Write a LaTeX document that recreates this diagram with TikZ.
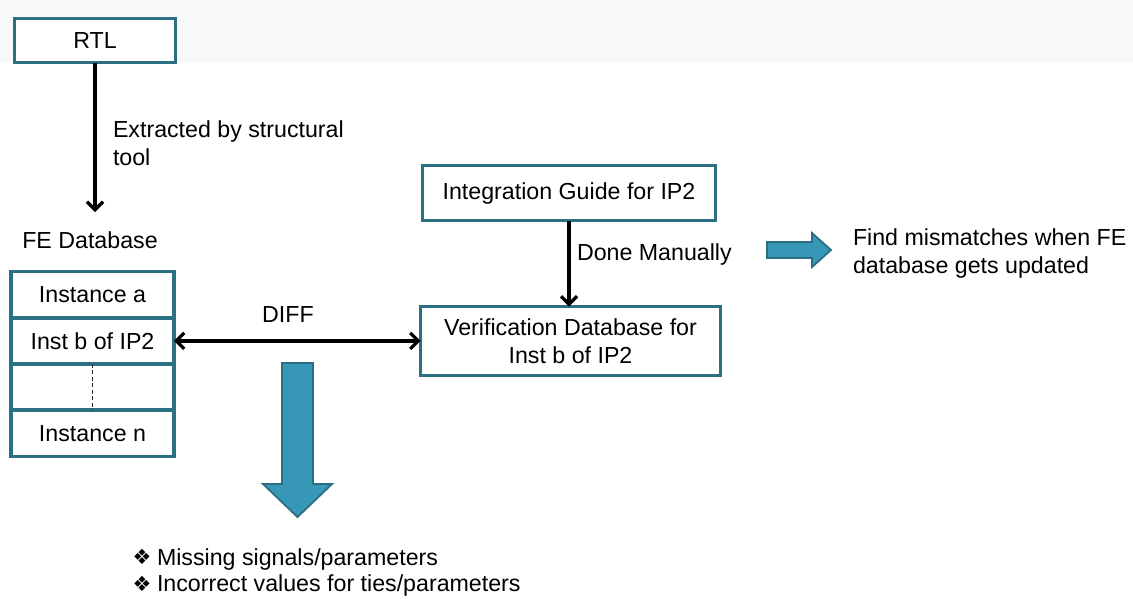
\documentclass[tikz,border=0pt]{standalone}
\usepackage{fontspec}
\setmainfont{Liberation Sans}
\newfontfamily\symfont{DejaVu Sans}
\usetikzlibrary{arrows.meta}
\definecolor{boxteal}{RGB}{44,112,132}
\definecolor{arrfill}{RGB}{55,151,182}
\definecolor{arredge}{RGB}{42,110,132}
\definecolor{bandgray}{RGB}{248,248,248}
\newcommand\dfont{\fontsize{23.2}{28}\selectfont}
\tikzset{
  box/.style={draw=boxteal, line width=3.5pt, fill=white, inner sep=0pt, outer sep=0pt, align=center, font=\dfont},
  lbl/.style={inner sep=0pt, outer sep=0pt, align=left, font=\dfont},
  conn/.style={draw=black, line width=3.2pt, -{Straight Barb[length=8pt,width=16pt]}},
  dconn/.style={draw=black, line width=3.2pt, {Straight Barb[length=8pt,width=16pt]}-{Straight Barb[length=8pt,width=16pt]}},
  blockarrow/.style={fill=arrfill, draw=arredge, line width=1.8pt, line join=miter},
  bullet/.style={inner sep=0pt, outer sep=0pt, font=\symfont\fontsize{21}{21}\selectfont}
}
\begin{document}
\begin{tikzpicture}[x=1pt,y=-1pt]
\useasboundingbox (0,0) rectangle (1133,598);
\fill[bandgray] (0,0) rectangle (1133,62);

% RTL
\node[box, minimum width=161pt, minimum height=44pt] (rtl) at (95,40.5) {RTL};
\coordinate (fetip) at (95,212);
\draw[conn] (rtl.south) -- (fetip);
\node[lbl, anchor=base west] (extr) at (113,165) {Extracted by structural\\tool};
\node[lbl, anchor=base] (fedb) at (90,248) {FE Database};

% stack
\node[box, minimum width=163pt, minimum height=46.25pt] (rowa) at (92.5,294.6) {Instance a};
\node[box, minimum width=163pt, minimum height=46.25pt] (rowb) at (92.5,340.9) {Inst b of IP2};
\node[box, minimum width=163pt, minimum height=46.25pt] (rowc) at (92.5,387.1) {};
\node[box, minimum width=163pt, minimum height=46.25pt] (rown) at (92.5,433.4) {Instance n};
\draw[black!85, line width=1pt, dash pattern=on 4pt off 2.5pt] (rowc.north) -- (rowc.south);

% integration and verification
\node[box, minimum width=293pt, minimum height=55pt] (integ) at (569,193) {Integration Guide for IP2};
\node[box, minimum width=300pt, minimum height=69pt] (verif) at (570.5,341) {Verification Database for\\Inst b of IP2};
\draw[conn] (integ.south) -- (integ.south |- verif.north);
\node[lbl, anchor=base west] (done) at (577,260) {Done Manually};

% DIFF
\draw[dconn] (rowb.east) -- (rowb.east -| verif.west);
\node[lbl, anchor=base] (diff) at (288,322) {DIFF};

% block arrows
\draw[blockarrow] (282,363) -- (313,363) -- (313,484) -- (332,484) -- (297.5,517) -- (263,484) -- (282,484) -- cycle;
\draw[blockarrow] (767,242) -- (812,242) -- (812,233) -- (831,250) -- (812,267) -- (812,258) -- (767,258) -- cycle;

\node[lbl, anchor=base west] (find) at (853,273) {Find mismatches when FE\\database gets updated};

% bullets
\node[bullet] (bul1) at (142,557) {❖};
\node[lbl, anchor=base west] (miss) at (157,565) {Missing signals/parameters};
\node[bullet] (bul2) at (142,584) {❖};
\node[lbl, anchor=base west] (incor) at (157,591) {Incorrect values for ties/parameters};
\end{tikzpicture}
\end{document}
